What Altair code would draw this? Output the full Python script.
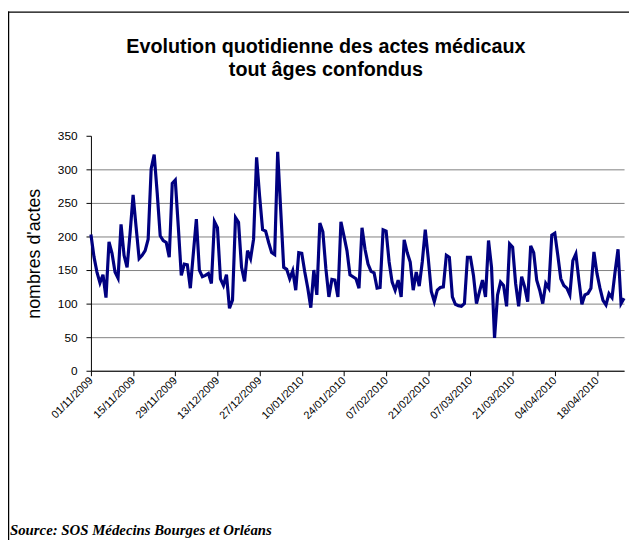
import altair as alt
import pandas as pd

# Daily number of medical acts, from 01/11/2009
start_date = "2009-11-01"
values = [203, 170, 147, 131, 143, 109, 192, 175, 147, 138,
          218, 172, 154, 205, 262, 214, 167, 172, 179, 196,
          301, 322, 265, 201, 194, 191, 169, 279, 284, 215,
          142, 159, 158, 123, 175, 226, 150, 140, 142, 145,
          130, 222, 213, 137, 127, 143, 93, 105, 228, 221,
          154, 133, 179, 167, 196, 318, 260, 210, 208, 191,
          176, 173, 326, 240, 154, 151, 137, 149, 120, 176,
          175, 147, 123, 94, 150, 113, 220, 207, 152, 110,
          136, 135, 110, 222, 201, 179, 143, 140, 137, 123,
          213, 181, 159, 148, 146, 123, 124, 210, 208, 162,
          132, 120, 135, 110, 195, 176, 162, 120, 147, 126,
          162, 210, 167, 118, 103, 120, 124, 125, 172, 169,
          110, 99, 97, 96, 100, 169, 169, 142, 100, 118,
          135, 110, 194, 154, 49, 113, 132, 127, 96, 189,
          184, 130, 96, 140, 125, 103, 186, 176, 135, 120,
          100, 130, 123, 202, 205, 172, 137, 127, 123, 113,
          164, 174, 135, 99, 113, 115, 123, 177, 145, 123,
          105, 98, 115, 109, 147, 181, 100, 108]

tick_dates = ["2009-11-01", "2009-11-15", "2009-11-29", "2009-12-13",
              "2009-12-27", "2010-01-10", "2010-01-24", "2010-02-07",
              "2010-02-21", "2010-03-07", "2010-03-21", "2010-04-04",
              "2010-04-18"]
y_ticks = [0, 50, 100, 150, 200, 250, 300, 350]

title_lines = ["Evolution quotidienne des actes médicaux", "tout âges confondus"]
y_title = "nombres d'actes"
source_text = "Source: SOS Médecins Bourges et Orléans"

dates = pd.date_range(start_date, periods=len(values), freq="D")
df = pd.DataFrame({"date": dates.strftime("%Y-%m-%d"), "value": values})


def ms(d):
    return int(pd.Timestamp(d).timestamp() * 1000)


tick_ms = [ms(d) for d in tick_dates]
domain_ms = [ms(dates[0]), ms(dates[-1])]

W, H = 540, 238
FONT = "Liberation Sans"

x_enc = alt.X(
    "date:T",
    scale=alt.Scale(type="utc", domain=domain_ms, nice=False),
    axis=alt.Axis(values=tick_ms, labelExpr="utcFormat(datum.value, '%d/%m/%Y')",
                  labelAngle=-45, labelAlign="right", labelBaseline="middle",
                  labelFontSize=11, labelFont=FONT, labelColor="black",
                  labelPadding=3, labelOverlap=False, labelFlush=False,
                  tickColor="black", tickSize=5, domainColor="black",
                  grid=False, title=None),
)
y_enc = alt.Y(
    "value:Q",
    scale=alt.Scale(domain=[0, 350], nice=False),
    axis=alt.Axis(values=y_ticks, labelFontSize=12, labelFont=FONT,
                  labelColor="black", labelPadding=9, tickColor="black",
                  tickSize=5, domainColor="black",
                  grid=True, gridColor="#808080", gridWidth=1,
                  gridOpacity={"condition": {"test": "datum.value >= 350", "value": 0}, "value": 1},
                  title=y_title, titleFont=FONT, titleFontSize=18,
                  titleFontWeight="normal", titleColor="black",
                  titleX=-57, titleY=H / 2, titleAngle=270,
                  titleAlign="center", titleBaseline="middle"),
)

line = alt.Chart(df).mark_line(color="#000080", strokeWidth=3.2).encode(
    x=x_enc, y=y_enc
)

one = pd.DataFrame({"a": [0]})
title1 = alt.Chart(one).mark_text(
    text=title_lines[0], font=FONT, fontSize=20, fontWeight="bold",
    align="center", baseline="middle", color="black"
).encode(x=alt.value(238), y=alt.value(-90))
title2 = alt.Chart(one).mark_text(
    text=title_lines[1], font=FONT, fontSize=20, fontWeight="bold",
    align="center", baseline="middle", color="black"
).encode(x=alt.value(238), y=alt.value(-67))
source = alt.Chart(one).mark_text(
    text=source_text, font="Liberation Serif", fontSize=15, fontWeight="bold",
    fontStyle="italic", align="left", baseline="alphabetic", color="black"
).encode(x=alt.value(-82), y=alt.value(404))

frame_left = alt.Chart(one).mark_rule(color="black", strokeWidth=1.5).encode(
    x=alt.value(-83.5), y=alt.value(-126), y2=alt.value(420)
)
frame_top = alt.Chart(one).mark_rule(color="black", strokeWidth=1.5).encode(
    x=alt.value(-84), x2=alt.value(560), y=alt.value(-125.25)
)

chart = alt.layer(
    line, title1, title2, source, frame_left, frame_top
).properties(
    width=W, height=H,
    autosize=alt.AutoSizeParams(type="none"),
    padding={"left": 84, "top": 126, "right": 5, "bottom": 168},
    background="white",
).configure_view(stroke=None)

chart.save("out.html", embed_options={"renderer": "svg", "actions": False})
